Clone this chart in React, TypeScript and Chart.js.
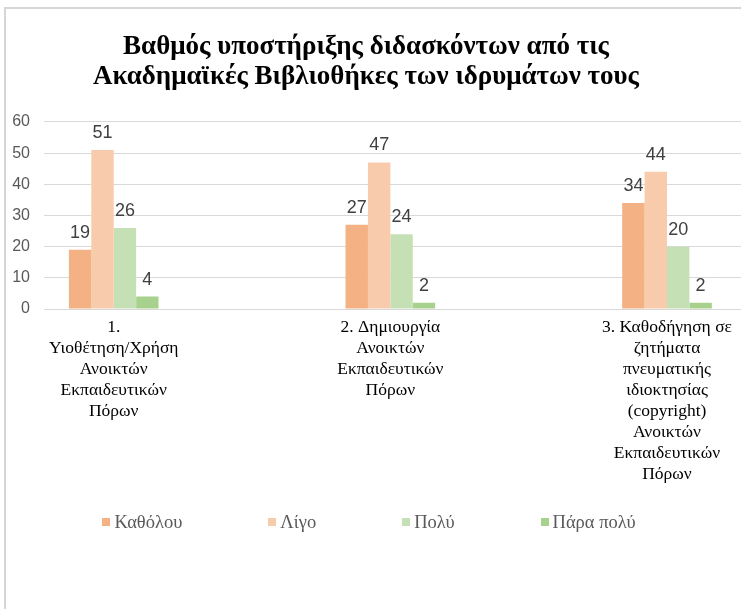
import React, { useEffect, useRef } from 'react';
import { Chart, registerables } from 'chart.js';

Chart.register(...registerables);

const SERIF = '"Liberation Serif", "Times New Roman", Times, serif';
const SANS = '"Liberation Sans", Arial, sans-serif';

const titleLines = [
  'Βαθμός υποστήριξης διδασκόντων από τις',
  'Ακαδημαϊκές Βιβλιοθήκες των ιδρυμάτων τους',
];

const categories: string[][] = [
  ['1.', 'Υιοθέτηση/Χρήση', 'Ανοικτών', 'Εκπαιδευτικών', 'Πόρων'],
  ['2. Δημιουργία', 'Ανοικτών', 'Εκπαιδευτικών', 'Πόρων'],
  ['3. Καθοδήγηση σε', 'ζητήματα', 'πνευματικής', 'ιδιοκτησίας', '(copyright)', 'Ανοικτών', 'Εκπαιδευτικών', 'Πόρων'],
];

const seriesNames = ['Καθόλου', 'Λίγο', 'Πολύ', 'Πάρα πολύ'];
const seriesColors = ['#F4B183', '#F8CBAD', '#C5E0B4', '#A9D18E'];

const katholou = [19, 27, 34];
const ligo = [51, 47, 44];
const poly = [26, 24, 20];
const paraPoly = [4, 2, 2];

const yMin = 0;
const yMax = 60;
const yStep = 10;

const seriesValues = [katholou, ligo, poly, paraPoly];

const dataLabelPlugin = {
  id: 'dataLabels',
  afterDatasetsDraw(chart: any) {
    const ctx = chart.ctx;
    ctx.save();
    ctx.font = '18px ' + SANS;
    ctx.fillStyle = '#404040';
    ctx.textAlign = 'center';
    ctx.textBaseline = 'middle';
    chart.data.datasets.forEach((ds: any, di: number) => {
      const meta = chart.getDatasetMeta(di);
      meta.data.forEach((el: any, i: number) => {
        const v = ds.data[i].y;
        ctx.fillText(String(v), el.x, el.y - 17);
      });
    });
    ctx.restore();
  },
};

const gridExtendPlugin = {
  id: 'gridExtend',
  beforeDatasetsDraw(chart: any) {
    const ys = chart.scales.y;
    const { ctx, chartArea } = chart;
    ctx.save();
    ctx.strokeStyle = '#d9d9d9';
    ctx.lineWidth = 1;
    ys.ticks.forEach((t: any) => {
      const py = Math.round(ys.getPixelForValue(t.value) - 0.5) + 0.5;
      ctx.beginPath();
      ctx.moveTo(chartArea.right - 1, py);
      ctx.lineTo(chart.width, py);
      ctx.stroke();
    });
    ctx.restore();
  },
};

function BarChart() {
  const ref = useRef<HTMLCanvasElement | null>(null);
  useEffect(() => {
    if (!ref.current) return;
    const chart = new Chart(ref.current, {
      type: 'bar',
      data: {
        datasets: seriesValues.map((vals, si) => ({
          label: seriesNames[si],
          data: vals.map((v, i) => ({ x: i, y: v })),
          backgroundColor: seriesColors[si],
          borderWidth: 0,
          categoryPercentage: 0.324,
          barPercentage: 1,
        })),
      },
      options: {
        responsive: false,
        animation: false,
        devicePixelRatio: 1,
        layout: { padding: { top: 0, left: 0, right: 14, bottom: 120 } },
        plugins: {
          legend: { display: false },
          tooltip: { enabled: false },
          title: {
            display: true,
            text: titleLines,
            color: '#000000',
            font: { family: SERIF, size: 27, weight: 'bold', lineHeight: 1.111 },
            padding: { top: 24, bottom: 30 },
          },
        },
        scales: {
          x: {
            type: 'linear',
            min: -0.252,
            max: 2.19,
            offset: false,
            grid: { display: false, drawTicks: false },
            border: { display: false },
            afterBuildTicks: (scale: any) => {
              scale.ticks = categories.map((_, i) => ({ value: i }));
            },
            afterFit: (scale: any) => {
              scale.height = 180;
            },
            ticks: {
              autoSkip: false,
              maxRotation: 0,
              minRotation: 0,
              padding: 8,
              color: '#000000',
              font: { family: SERIF, size: 17.5, lineHeight: 1.2 },
              callback: (value: any) => categories[Math.round(Number(value))] ?? '',
            },
          },
          y: {
            min: yMin,
            max: yMax,
            grid: { color: '#d9d9d9', lineWidth: 1, drawTicks: false },
            border: { display: false },
            afterFit: (scale: any) => {
              scale.width = 39;
            },
            ticks: {
              stepSize: yStep,
              padding: 14,
              color: '#595959',
              font: { family: SANS, size: 16 },
            },
          },
        },
      },
      plugins: [gridExtendPlugin, dataLabelPlugin],
    });
    return () => chart.destroy();
  }, []);
  return (
    <canvas
      ref={ref}
      width={736}
      height={601}
      style={{ position: 'absolute', left: 5, top: 8 }}
    />
  );
}

function Legend() {
  return (
    <div
      style={{
        position: 'absolute',
        left: 5,
        width: 728,
        top: 511,
        display: 'flex',
        justifyContent: 'center',
        alignItems: 'center',
        gap: 86,
        fontFamily: SERIF,
        fontSize: 18.5,
        color: '#595959',
        lineHeight: '22px',
        whiteSpace: 'nowrap',
      }}
    >
      {seriesNames.map((name, i) => (
        <div key={name} style={{ display: 'flex', alignItems: 'center' }}>
          <span style={{ display: 'inline-block', width: 8, height: 8, background: seriesColors[i], marginRight: 4 }} />
          <span>{name}</span>
        </div>
      ))}
    </div>
  );
}

export default function App() {
  return (
    <div
      style={{
        position: 'fixed',
        left: 0,
        top: 0,
        width: 741,
        height: 609,
        overflow: 'hidden',
        background: '#ffffff',
      }}
    >
      <div
        style={{
          position: 'absolute',
          left: 4,
          top: 7,
          width: 800,
          height: 700,
          borderLeft: '2px solid #d6d6d6',
          borderTop: '2px solid #d6d6d6',
        }}
      />
      <BarChart />
      <Legend />
    </div>
  );
}
